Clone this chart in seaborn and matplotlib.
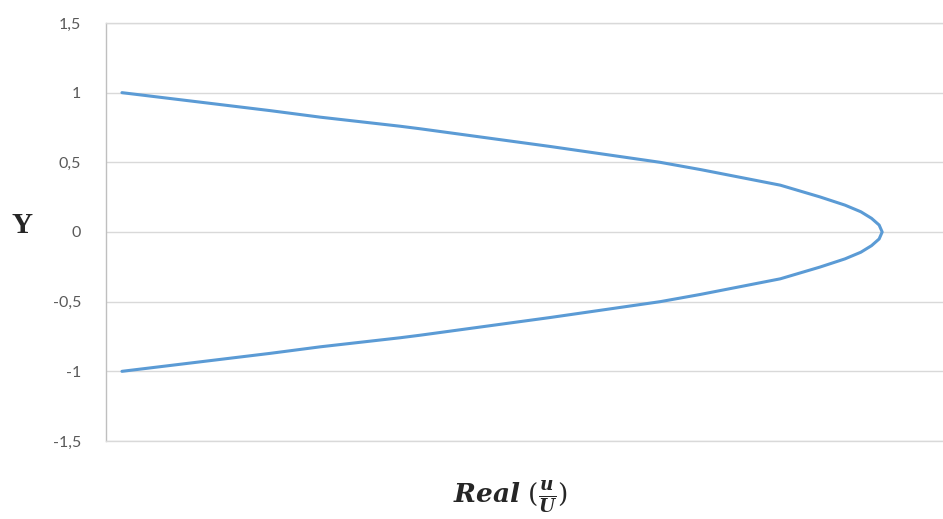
import matplotlib
matplotlib.use("Agg")
import matplotlib.pyplot as plt
import matplotlib.ticker as mticker
import seaborn as sns
import pandas as pd

sns.set_theme(style="white")
plt.rcParams["font.family"] = ["Lato", "DejaVu Sans"]
plt.rcParams["mathtext.fontset"] = "dejavuserif"

# ── DATA ───────────────────────────────────────────────────
# profile, top wall -> centre -> bottom wall
y_pos  = [1.0, 0.871, 0.824, 0.759, 0.741, 0.614, 0.5, 0.448, 0.383, 0.336, 0.252,
          0.193, 0.145, 0.098, 0.05, 0.0,
          -0.05, -0.098, -0.145, -0.193, -0.252, -0.336, -0.383, -0.448, -0.5,
          -0.614, -0.741, -0.759, -0.824, -0.871, -1.0]
u_real = [0.0, 0.195, 0.261, 0.366, 0.392, 0.563, 0.708, 0.761, 0.822, 0.866, 0.918,
          0.951, 0.972, 0.986, 0.996, 1.0,
          0.996, 0.986, 0.972, 0.951, 0.918, 0.866, 0.822, 0.761, 0.708,
          0.563, 0.392, 0.366, 0.261, 0.195, 0.0]
y_ticks  = [-1.5, -1, -0.5, 0, 0.5, 1, 1.5]

df = pd.DataFrame({"u": u_real, "y": y_pos})

# ── PLOT ───────────────────────────────────────────────────
fig = plt.figure(figsize=(9.43, 5.19), dpi=100)
ax = fig.add_axes([0.1124, 0.1503, 0.8876, 0.8054])

sns.lineplot(data=df, x="u", y="y", sort=False, estimator=None,
             color="#5B9BD5", linewidth=2.2, ax=ax)

ax.set_xlim(-0.021, 1.08)
ax.set_ylim(-1.5, 1.5)
ax.set_yticks(y_ticks)
ax.yaxis.set_major_formatter(mticker.FuncFormatter(
    lambda v, _: f"{v:g}".replace(".", ",")))
ax.set_xticks([])
ax.grid(axis="y", color="#D9D9D9", linewidth=1.0)
ax.tick_params(axis="y", length=0, pad=18, labelsize=11.5, labelcolor="#595959")

ax.spines["right"].set_visible(False)
for s in ["top", "bottom"]:
    ax.spines[s].set_color("#D9D9D9")
    ax.spines[s].set_linewidth(1.0)
ax.spines["left"].set_color("#BFBFBF")
ax.spines["left"].set_linewidth(1.0)

ax.set_xlabel("")
ax.set_ylabel("")
fig.text(0.0233, 0.566, "Y", fontsize=21, fontweight="bold",
         family="Liberation Serif", ha="center", va="center")
fig.text(0.541, 0.042,
         r"$\mathbfit{Real}\ (\frac{\mathbfit{u}}{\mathbfit{U}})$",
         fontsize=19, ha="center", va="center")

fig.savefig("out.png", dpi=100)
